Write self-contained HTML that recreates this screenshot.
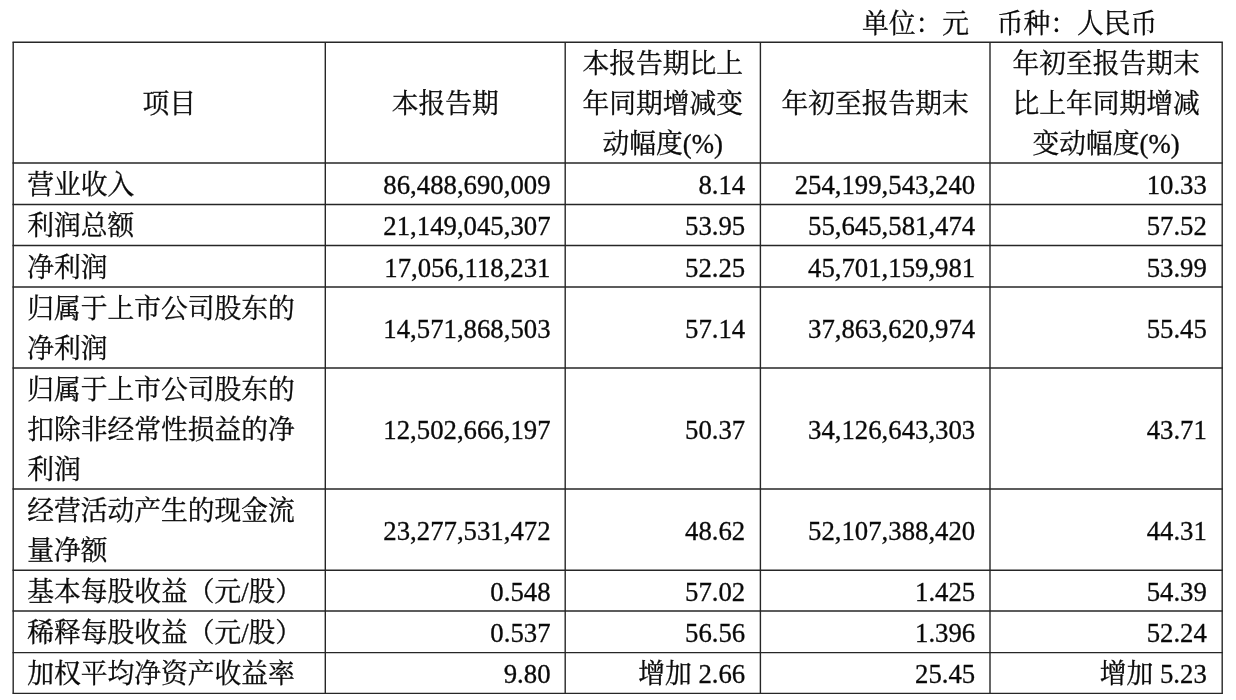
<!DOCTYPE html>
<html lang="zh-CN">
<head>
<meta charset="utf-8">
<title>主要财务数据</title>
<style>
html,body{margin:0;padding:0;background:#fff;}
body{width:1236px;height:700px;position:relative;overflow:hidden;
 font-family:"Liberation Serif","Noto Serif CJK SC",serif;font-size:26.75px;line-height:40.3px;color:#0a0a0a;
 font-weight:400;-webkit-text-stroke:0.3px #0a0a0a;-webkit-font-smoothing:antialiased;}
svg.grid{position:absolute;left:0;top:0;}
.t{position:absolute;white-space:nowrap;height:40.3px;}
.l{text-align:left;}
.r{text-align:right;}
.c{text-align:center;}
</style>
</head>
<body>

<svg class="grid" width="1236" height="700" viewBox="0 0 1236 700" stroke="#262626" stroke-width="1.4" fill="none">
<line x1="12.5" y1="42.2" x2="1222.9" y2="42.2"/>
<line x1="12.5" y1="163.0" x2="1222.9" y2="163.0"/>
<line x1="12.5" y1="204.5" x2="1222.9" y2="204.5"/>
<line x1="12.5" y1="245.5" x2="1222.9" y2="245.5"/>
<line x1="12.5" y1="287.0" x2="1222.9" y2="287.0"/>
<line x1="12.5" y1="368.0" x2="1222.9" y2="368.0"/>
<line x1="12.5" y1="489.0" x2="1222.9" y2="489.0"/>
<line x1="12.5" y1="570.3" x2="1222.9" y2="570.3"/>
<line x1="12.5" y1="611.0" x2="1222.9" y2="611.0"/>
<line x1="12.5" y1="652.6" x2="1222.9" y2="652.6"/>
<line x1="12.5" y1="693.4" x2="1222.9" y2="693.4"/>
<line x1="13.2" y1="42.2" x2="13.2" y2="693.4"/>
<line x1="325.3" y1="42.2" x2="325.3" y2="693.4"/>
<line x1="565.2" y1="42.2" x2="565.2" y2="693.4"/>
<line x1="760.4" y1="42.2" x2="760.4" y2="693.4"/>
<line x1="990.0" y1="42.2" x2="990.0" y2="693.4"/>
<line x1="1222.2" y1="42.2" x2="1222.2" y2="693.4"/>
</svg>
<div class="t l" style="left:862.0px;top:3.65px">单位：元</div>
<div class="t l" style="left:996.8px;top:3.65px">币种：人民币</div>
<div class="t c" style="left:13.20px;width:312.10px;top:83.95px">项目</div>
<div class="t c" style="left:325.30px;width:239.90px;top:83.95px">本报告期</div>
<div class="t c" style="left:565.20px;width:195.20px;top:43.65px">本报告期比上</div>
<div class="t c" style="left:565.20px;width:195.20px;top:83.95px">年同期增减变</div>
<div class="t c" style="left:565.20px;width:195.20px;top:124.25px">动幅度(%)</div>
<div class="t c" style="left:760.40px;width:229.60px;top:83.95px">年初至报告期末</div>
<div class="t c" style="left:990.00px;width:232.20px;top:43.65px">年初至报告期末</div>
<div class="t c" style="left:990.00px;width:232.20px;top:83.95px">比上年同期增减</div>
<div class="t c" style="left:990.00px;width:232.20px;top:124.25px">变动幅度(%)</div>
<div class="t l" style="left:27.20px;top:165.10px">营业收入</div>
<div class="t r" style="right:685.50px;top:165.10px">86,488,690,009</div>
<div class="t r" style="right:490.80px;top:165.10px">8.14</div>
<div class="t r" style="right:260.80px;top:165.10px">254,199,543,240</div>
<div class="t r" style="right:29.20px;top:165.10px">10.33</div>
<div class="t l" style="left:27.20px;top:206.35px">利润总额</div>
<div class="t r" style="right:685.50px;top:206.35px">21,149,045,307</div>
<div class="t r" style="right:490.80px;top:206.35px">53.95</div>
<div class="t r" style="right:260.80px;top:206.35px">55,645,581,474</div>
<div class="t r" style="right:29.20px;top:206.35px">57.52</div>
<div class="t l" style="left:27.20px;top:247.60px">净利润</div>
<div class="t r" style="right:685.50px;top:247.60px">17,056,118,231</div>
<div class="t r" style="right:490.80px;top:247.60px">52.25</div>
<div class="t r" style="right:260.80px;top:247.60px">45,701,159,981</div>
<div class="t r" style="right:29.20px;top:247.60px">53.99</div>
<div class="t l" style="left:27.20px;top:288.70px">归属于上市公司股东的</div>
<div class="t l" style="left:27.20px;top:329.00px">净利润</div>
<div class="t r" style="right:685.50px;top:308.85px">14,571,868,503</div>
<div class="t r" style="right:490.80px;top:308.85px">57.14</div>
<div class="t r" style="right:260.80px;top:308.85px">37,863,620,974</div>
<div class="t r" style="right:29.20px;top:308.85px">55.45</div>
<div class="t l" style="left:27.20px;top:369.55px">归属于上市公司股东的</div>
<div class="t l" style="left:27.20px;top:409.85px">扣除非经常性损益的净</div>
<div class="t l" style="left:27.20px;top:450.15px">利润</div>
<div class="t r" style="right:685.50px;top:409.85px">12,502,666,197</div>
<div class="t r" style="right:490.80px;top:409.85px">50.37</div>
<div class="t r" style="right:260.80px;top:409.85px">34,126,643,303</div>
<div class="t r" style="right:29.20px;top:409.85px">43.71</div>
<div class="t l" style="left:27.20px;top:490.85px">经营活动产生的现金流</div>
<div class="t l" style="left:27.20px;top:531.15px">量净额</div>
<div class="t r" style="right:685.50px;top:511.00px">23,277,531,472</div>
<div class="t r" style="right:490.80px;top:511.00px">48.62</div>
<div class="t r" style="right:260.80px;top:511.00px">52,107,388,420</div>
<div class="t r" style="right:29.20px;top:511.00px">44.31</div>
<div class="t l" style="left:27.20px;top:572.00px">基本每股收益（元/股）</div>
<div class="t r" style="right:685.50px;top:572.00px">0.548</div>
<div class="t r" style="right:490.80px;top:572.00px">57.02</div>
<div class="t r" style="right:260.80px;top:572.00px">1.425</div>
<div class="t r" style="right:29.20px;top:572.00px">54.39</div>
<div class="t l" style="left:27.20px;top:613.15px">稀释每股收益（元/股）</div>
<div class="t r" style="right:685.50px;top:613.15px">0.537</div>
<div class="t r" style="right:490.80px;top:613.15px">56.56</div>
<div class="t r" style="right:260.80px;top:613.15px">1.396</div>
<div class="t r" style="right:29.20px;top:613.15px">52.24</div>
<div class="t l" style="left:27.20px;top:654.35px">加权平均净资产收益率</div>
<div class="t r" style="right:685.50px;top:654.35px">9.80</div>
<div class="t r" style="right:490.80px;top:654.35px">增加 2.66</div>
<div class="t r" style="right:260.80px;top:654.35px">25.45</div>
<div class="t r" style="right:29.20px;top:654.35px">增加 5.23</div>
</body>
</html>
